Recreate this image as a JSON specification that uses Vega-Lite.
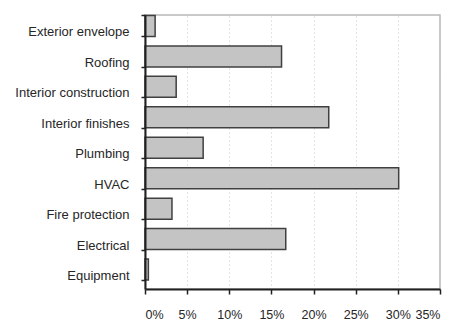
{
  "$schema": "https://vega.github.io/schema/vega-lite/v6.json",
  "width": 295,
  "height": 274,
  "autosize": "none",
  "padding": {"left": 145, "top": 15, "right": 14, "bottom": 33},
  "background": "white",
  "config": {
    "view": {"stroke": "#b8b8b8", "strokeWidth": 1.5},
    "font": "Liberation Sans"
  },
  "data": {
    "values": [
      {"category": "Exterior envelope", "share": 0.012},
      {"category": "Roofing", "share": 0.162},
      {"category": "Interior construction", "share": 0.037},
      {"category": "Interior finishes", "share": 0.218},
      {"category": "Plumbing", "share": 0.069},
      {"category": "HVAC", "share": 0.301},
      {"category": "Fire protection", "share": 0.032},
      {"category": "Electrical", "share": 0.167},
      {"category": "Equipment", "share": 0.004}
    ]
  },
  "mark": {"type": "bar", "fill": "#c4c4c4", "stroke": "#404040", "strokeWidth": 1.5},
  "encoding": {
    "y": {
      "field": "category",
      "type": "nominal",
      "sort": null,
      "scale": {"paddingInner": 0.31, "paddingOuter": 0.155, "align": 0.05},
      "axis": {
        "title": null,
        "tickBand": "extent",
        "labelOffset": 6,
        "tickSize": 4,
        "tickColor": "#202020",
        "tickWidth": 1.5,
        "domainColor": "#202020",
        "domainWidth": 2,
        "labelPadding": 12,
        "labelFontSize": 13,
        "labelColor": "#262626",
        "grid": false,
        "zindex": 1
      }
    },
    "x": {
      "field": "share",
      "type": "quantitative",
      "scale": {"domain": [0, 0.35], "nice": false},
      "axis": {
        "title": null,
        "values": [0, 0.05, 0.1, 0.15, 0.2, 0.25, 0.3, 0.35],
        "format": ".0%",
        "tickSize": 5,
        "tickColor": "#202020",
        "tickWidth": 1.5,
        "domainColor": "#202020",
        "domainWidth": 2,
        "labelPadding": 14,
        "labelFontSize": 12.5,
        "labelColor": "#262626",
        "grid": true,
        "gridColor": "#c8c8c8",
        "gridDash": [1, 3],
        "gridWidth": 1,
        "zindex": 0
      }
    }
  }
}
